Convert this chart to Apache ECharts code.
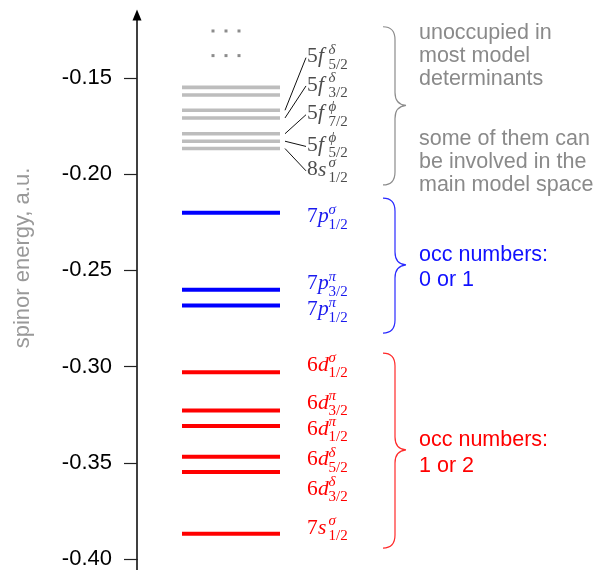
<!DOCTYPE html>
<html>
<head>
<meta charset="utf-8">
<script src="https://cdn.jsdelivr.net/npm/echarts@6/dist/echarts.min.js"></script>
<style>
  html, body { margin: 0; padding: 0; background: #fff; }
  #chart { width: 597px; height: 570px; }
</style>
</head>
<body>
<div id="chart"></div>
<script>
// Spinor energies, a.u.
const grayLevels = [-0.1549, -0.1589, -0.1668, -0.1708, -0.1790, -0.1829, -0.1867];
const blueLevels = [-0.2201, -0.2601, -0.2683];
const redLevels  = [-0.3029, -0.3228, -0.3309, -0.3469, -0.3548, -0.3869];
// higher levels hinted by dots
const dotLevels = [-0.1256, -0.1384];

// spinor labels: [n, l, symmetry, j]
const grayLabels = [null, null,
  ['5', 'f', 'δ', '5/2'], ['5', 'f', 'δ', '3/2'], ['5', 'f', 'ϕ', '7/2'],
  ['5', 'f', 'ϕ', '5/2'], ['8', 's', 'σ', '1/2']];
const blueLabels = [['7', 'p', 'σ', '1/2'], ['7', 'p', 'π', '3/2'], ['7', 'p', 'π', '1/2']];
const redLabels = [['6', 'd', 'σ', '1/2'], ['6', 'd', 'π', '3/2'], ['6', 'd', 'π', '1/2'],
  ['6', 'd', 'δ', '5/2'], ['6', 'd', 'δ', '3/2'], ['7', 's', 'σ', '1/2']];

const tickValues = [-0.40, -0.35, -0.30, -0.25, -0.20, -0.15];

// braces: [top, tip, bottom] in energy units
const braceRanges = [[-0.1234, -0.1643, -0.2056], [-0.2125, -0.2472, -0.2826], [-0.2930, -0.3433, -0.3943]];
const braceTexts = [
  ['unoccupied in\nmost model\ndeterminants', 'some of them can\nbe involved in the\nmain model space'],
  ['occ numbers:\n0 or 1'],
  ['occ numbers:\n1 or 2']
];

// ---- layout (pixels) ----
const BAR_X0 = 182, BAR_X1 = 280;
const LABEL_X = 307;
const grayNudge = [0, 0, -53.6, -33, -20, 4.2, 21.3];
const blueNudge = [4, -6, 4];
const redNudge = [-6.6, -7, 3, 3, 17, -5.7];
const braceTextNudge = [[-49, 57], [2.5], [3]];
const braceColors = ['#8c8c8c', '#2a2aff', '#ff2a2a'];
const braceTextColors = ['#8a8a8a', '#1010ff', '#ff0000'];
const SERIF = '"Liberation Serif", "DejaVu Serif", serif';
const SANS = '"Liberation Sans", Arial, sans-serif';

function labelEls(lab, cy, color) {
  return [
    { type: 'text', x: LABEL_X, y: cy, style: { text: lab[0], fontSize: 21.5, fontFamily: SERIF, fill: color, align: 'left', verticalAlign: 'middle' } },
    { type: 'text', x: LABEL_X + 11, y: cy, style: { text: lab[1], fontSize: 21.5, fontFamily: SERIF, fontStyle: 'italic', fill: color, align: 'left', verticalAlign: 'middle' } },
    { type: 'text', x: LABEL_X + 21.5, y: cy - 7, style: { text: lab[2], fontSize: 15, fontFamily: SERIF, fontStyle: 'italic', fill: color, align: 'left', verticalAlign: 'middle' } },
    { type: 'text', x: LABEL_X + 21.5, y: cy + 8, style: { text: lab[3], fontSize: 15, fontFamily: SERIF, fill: color, align: 'left', verticalAlign: 'middle' } }
  ];
}

function levelRenderer(labels, nudges, barColor, textColor, barWidth, withConnectors) {
  return function (params, api) {
    const i = params.dataIndex;
    const y = api.coord([0, api.value(1)])[1];
    const children = [{
      type: 'line',
      shape: { x1: BAR_X0, y1: y, x2: BAR_X1, y2: y },
      style: { stroke: barColor, lineWidth: barWidth }
    }];
    const lab = labels[i];
    if (lab) {
      const cy = y + nudges[i];
      children.push(...labelEls(lab, cy, textColor));
      if (withConnectors) {
        children.push({
          type: 'line',
          shape: { x1: BAR_X1 + 5, y1: y, x2: LABEL_X - 1, y2: cy + 1 },
          style: { stroke: '#111', lineWidth: 1 }
        });
      }
    }
    return { type: 'group', children };
  };
}

function dotRenderer(params, api) {
  const y = api.coord([0, api.value(1)])[1];
  return {
    type: 'group',
    children: [213, 226, 239].map(x => ({
      type: 'rect', shape: { x: x - 1.5, y: y - 1.5, width: 3, height: 3 },
      style: { fill: '#8c8c8c' }
    }))
  };
}

function braceRenderer(params, api) {
  const i = params.dataIndex;
  const r = braceRanges[i];
  const top = api.coord([0, r[0]])[1];
  const tip = api.coord([0, r[1]])[1];
  const bot = api.coord([0, r[2]])[1];
  const x0 = 383, xv = 395, xt = 406, k = 13;
  const d = `M${x0} ${top} Q${xv} ${top} ${xv} ${top + k} L${xv} ${tip - k} ` +
            `Q${xv} ${tip - 1} ${xt} ${tip} Q${xv} ${tip + 1} ${xv} ${tip + k} ` +
            `L${xv} ${bot - k} Q${xv} ${bot} ${x0} ${bot}`;
  const children = [{
    type: 'path', shape: { pathData: d },
    style: { fill: 'none', stroke: braceColors[i], lineWidth: 1.2 }
  }];
  braceTexts[i].forEach((t, j) => {
    children.push({
      type: 'text', x: 419, y: tip + braceTextNudge[i][j],
      style: { text: t, fontSize: 21.5, fontFamily: SANS, fill: braceTextColors[i],
               lineHeight: i === 0 ? 23 : 25.5, align: 'left', verticalAlign: 'middle' }
    });
  });
  return { type: 'group', children };
}

const chart = echarts.init(document.getElementById('chart'), null, { renderer: 'canvas' });

chart.setOption({
  animation: false,
  grid: { left: 137, right: 0, top: 15, bottom: 10.8 },
  xAxis: { type: 'value', min: 0, max: 1, show: false },
  yAxis: {
    type: 'value',
    min: -0.40,
    max: -0.1173,
    splitLine: { show: false },
    axisLine: {
      show: true,
      lineStyle: { color: '#000', width: 1.5 },
      symbol: ['none', 'triangle'],
      symbolSize: [9, 11]
    },
    axisTick: { show: true, length: 13, lineStyle: { color: '#222', width: 1.2 }, customValues: tickValues },
    axisLabel: {
      customValues: tickValues,
      formatter: v => v.toFixed(2),
      fontSize: 22, fontFamily: SANS, color: '#000', margin: 25
    }
  },
  series: [
    { type: 'custom', name: 'unoccupied', renderItem: levelRenderer(grayLabels, grayNudge, '#bdbdbd', '#4d4d4d', 3.6, true),
      data: grayLevels.map(v => [0, v]), encode: { x: 0, y: 1 }, clip: false },
    { type: 'custom', name: 'occ 0 or 1', renderItem: levelRenderer(blueLabels, blueNudge, '#0000ff', '#1a1aee', 4, false),
      data: blueLevels.map(v => [0, v]), encode: { x: 0, y: 1 }, clip: false },
    { type: 'custom', name: 'occ 1 or 2', renderItem: levelRenderer(redLabels, redNudge, '#ff0000', '#f00', 4, false),
      data: redLevels.map(v => [0, v]), encode: { x: 0, y: 1 }, clip: false },
    { type: 'custom', name: 'higher', renderItem: dotRenderer,
      data: dotLevels.map(v => [0, v]), encode: { x: 0, y: 1 }, clip: false },
    { type: 'custom', name: 'braces', renderItem: braceRenderer,
      data: braceRanges.map(r => [0, r[1]]), encode: { x: 0, y: 1 }, clip: false }
  ]
});

// axis title and the axis line continuing a little below the lowest tick
const yLow = chart.convertToPixel({ yAxisIndex: 0 }, -0.40);
chart.setOption({
  graphic: [
    {
      type: 'text', x: 23, y: 258, rotation: Math.PI / 2,
      style: { text: 'spinor energy, a.u.', fontSize: 22, fontFamily: SANS, fill: '#999', align: 'center', verticalAlign: 'middle' }
    },
    {
      type: 'line', shape: { x1: 137, y1: yLow, x2: 137, y2: 570 },
      style: { stroke: '#000', lineWidth: 1.5 }
    }
  ]
});
</script>
</body>
</html>
